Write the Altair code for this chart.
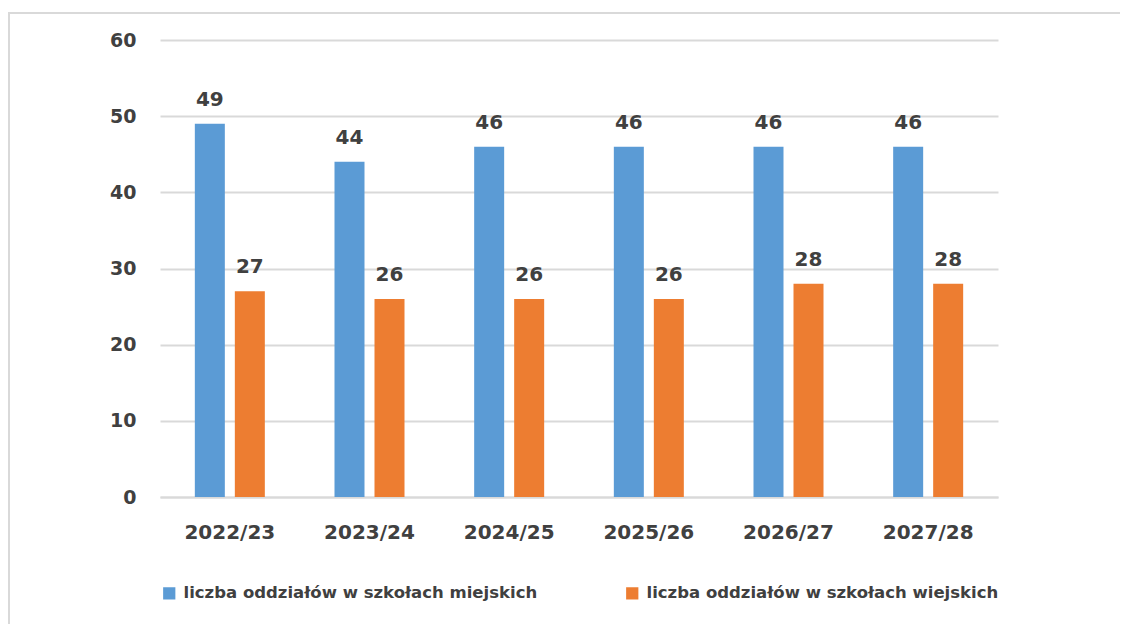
import altair as alt
import pandas as pd

years = ["2022/23", "2023/24", "2024/25", "2025/26", "2026/27", "2027/28"]
series = ["liczba oddziałów w szkołach miejskich", "liczba oddziałów w szkołach wiejskich"]
urban = [49, 44, 46, 46, 46, 46]
rural = [27, 26, 26, 26, 28, 28]
colors = ["#5b9bd5", "#ed7d31"]
y_ticks = [0, 10, 20, 30, 40, 50, 60]

rows = []
for i, yr in enumerate(years):
    rows.append({"year": yr, "series": series[0], "value": urban[i]})
    rows.append({"year": yr, "series": series[1], "value": rural[i]})
df = pd.DataFrame(rows)

FONT = "DejaVu Sans"
TXT = "#404040"
GRID = "#d9d9d9"

x_enc = alt.X("year:N", sort=years, title=None,
              scale=alt.Scale(paddingInner=0.4988, paddingOuter=0.2494),
              axis=alt.Axis(labelFont=FONT, labelFontSize=20, labelFontWeight="bold",
                            labelColor=TXT, labelPadding=25, ticks=False,
                            domainColor=GRID, domainWidth=2, labelAngle=0))
xoff = alt.XOffset("series:N", sort=series,
                   scale=alt.Scale(paddingInner=0.25, paddingOuter=0))
y_enc = alt.Y("value:Q", title=None,
              scale=alt.Scale(domain=[0, 60], nice=False),
              axis=alt.Axis(values=y_ticks, labelFont=FONT, labelFontSize=19,
                            labelFontWeight="bold", labelColor=TXT, labelPadding=24,
                            ticks=False, domain=False, gridColor=GRID, gridWidth=2))

base = alt.Chart(df)

bars = base.mark_bar().encode(
    x=x_enc, xOffset=xoff, y=y_enc,
    color=alt.Color("series:N", sort=series,
                    scale=alt.Scale(domain=series, range=colors),
                    legend=alt.Legend(title=None, orient="none", direction="horizontal",
                                      legendX=1, legendY=545,
                                      symbolType="square", symbolSize=150,
                                      symbolStrokeWidth=0, symbolOffset=0,
                                      labelFont=FONT, labelFontSize=16.5,
                                      labelFontWeight="bold", labelColor=TXT,
                                      labelLimit=500, columnPadding=86,
                                      labelOffset=6)),
)

labels = base.mark_text(font=FONT, fontSize=20, fontWeight="bold", color=TXT,
                        baseline="alphabetic", dy=-18).encode(
    x=alt.X("year:N", sort=years), xOffset=xoff, y="value:Q",
    text="value:Q",
)

border = alt.Chart(alt.Data(values=[{"a": 1}])).mark_rect(
    fill=None, stroke=GRID, strokeWidth=2
).encode(x=alt.value(-151), x2=alt.value(1200), y=alt.value(-27), y2=alt.value(800))

chart = alt.layer(border, bars, labels).properties(
    width=838, height=457,
    autosize=alt.AutoSizeParams(type="none"),
    padding={"left": 152, "top": 32, "right": 122, "bottom": 127},
).configure_view(stroke=None)

chart.save("out.html", embed_options={"renderer": "svg", "actions": False})
